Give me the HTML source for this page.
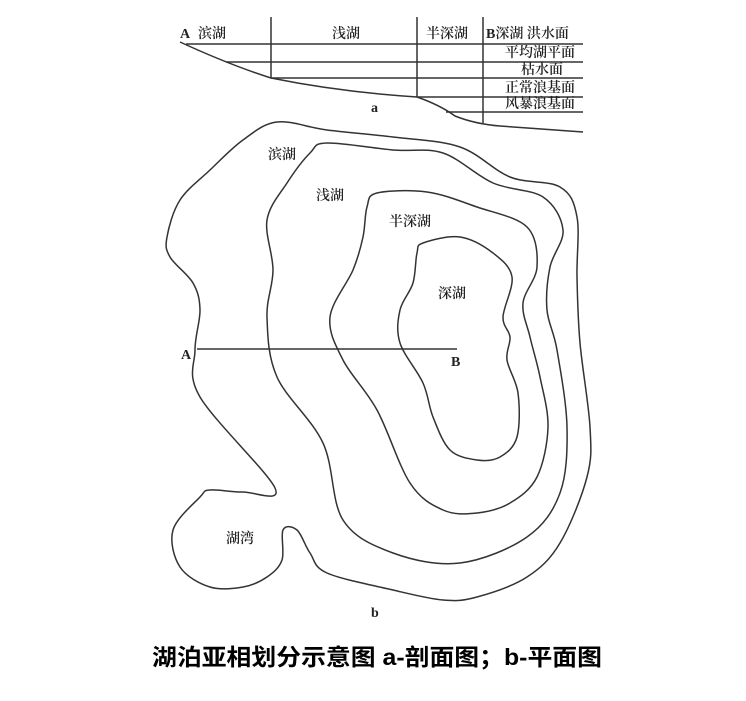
<!DOCTYPE html>
<html><head><meta charset="utf-8"><style>
html,body{margin:0;padding:0;background:#fff;}
svg{display:block;}
text{font-family:"Liberation Serif","Noto Serif CJK SC","Noto Sans CJK SC",serif;fill:#222;}
</style></head><body>
<svg id="s" width="746" height="701" viewBox="0 0 746 701" xmlns="http://www.w3.org/2000/svg">
<g stroke="#333" stroke-width="1.5" fill="none">
<line x1="186" y1="44" x2="583" y2="44"/>
<line x1="226" y1="62" x2="583" y2="62"/>
<line x1="271" y1="78" x2="583" y2="78"/>
<line x1="417" y1="97" x2="583" y2="97"/>
<line x1="446" y1="112" x2="583" y2="112"/>
<line x1="271" y1="17" x2="271" y2="78"/>
<line x1="417" y1="17" x2="417" y2="97"/>
<line x1="483" y1="17" x2="483" y2="123"/>
<path d="M180,42 Q230,65 271,78 Q340,92 417,97 Q440,105 455,116 Q475,124 500,126 Q540,129 583,132"/>
<line x1="197" y1="349" x2="457" y2="349"/>
<path id="p1"/><path id="p2"/><path id="p3"/><path id="p4"/>
</g>
<g font-size="14" font-weight="bold" style="font-weight:600">
<text x="180" y="38">A</text>
<text x="198" y="38">滨湖</text>
<text x="332" y="38">浅湖</text>
<text x="426" y="38">半深湖</text>
<text x="486" y="38">B深湖 洪水面</text>
<text x="505" y="57">平均湖平面</text>
<text x="521" y="74">枯水面</text>
<text x="505" y="92">正常浪基面</text>
<text x="505" y="108">风暴浪基面</text>
<text x="371" y="112">a</text>
<text x="268" y="159">滨湖</text>
<text x="316" y="200">浅湖</text>
<text x="389" y="226">半深湖</text>
<text x="438" y="298">深湖</text>
<text x="226" y="543">湖湾</text>
<text x="181" y="359">A</text>
<text x="451" y="366">B</text>
<text x="371" y="617">b</text>
</g>
<text x="152" y="665" font-size="23" font-weight="bold" textLength="450" lengthAdjust="spacingAndGlyphs" style="font-family:'Liberation Sans','Noto Sans CJK SC',sans-serif;fill:#000">湖泊亚相划分示意图 a-剖面图；b-平面图</text>
</svg>
<script>
function cr(pts){var n=pts.length,d="M"+pts[0][0]+","+pts[0][1];
for(var i=0;i<n;i++){var p0=pts[(i-1+n)%n],p1=pts[i],p2=pts[(i+1)%n],p3=pts[(i+2)%n];
d+=" C"+(p1[0]+(p2[0]-p0[0])/6).toFixed(1)+","+(p1[1]+(p2[1]-p0[1])/6).toFixed(1)+" "+(p2[0]-(p3[0]-p1[0])/6).toFixed(1)+","+(p2[1]-(p3[1]-p1[1])/6).toFixed(1)+" "+p2[0]+","+p2[1];}
return d+"Z";}
var a=[[275,488],[200,397],[195,350],[200,310],[193,283],[170,257],[167,237],[180,200],[210,170],[243,140],[277,122],[327,130],[393,137],[460,147],[510,177],[560,187],[577,217],[577,277],[580,343],[590,427],[587,477],[560,543],[527,577],[477,597],[443,600],[393,590],[327,573],[310,553],[297,530],[283,530],[282,560],[267,577],[243,587],[210,587],[180,567],[173,530],[200,497],[210,490],[243,492]];
var b=[[327,143],[393,150],[443,153],[493,183],[543,197],[563,230],[550,267],[547,310],[557,350],[567,427],[560,493],[527,537],[460,563],[393,553],[343,520],[323,443],[277,377],[267,317],[273,270],[267,220],[287,183],[310,153]];
var c=[[377,193],[427,192],[477,207],[527,227],[537,267],[523,303],[530,337],[540,377],[548,427],[537,477],[510,503],[477,513],[443,510],[410,483],[377,410],[343,360],[330,317],[353,270],[363,237],[367,207]];
var e=[[423,243],[460,237],[493,253],[512,277],[503,317],[510,337],[507,360],[518,393],[517,437],[500,457],[477,460],[450,450],[433,417],[423,383],[400,343],[400,310],[413,283],[417,253]];
document.getElementById("p1").setAttribute("d",cr(a));
document.getElementById("p2").setAttribute("d",cr(b));
document.getElementById("p3").setAttribute("d",cr(c));
document.getElementById("p4").setAttribute("d",cr(e));
</script>
</body></html>
